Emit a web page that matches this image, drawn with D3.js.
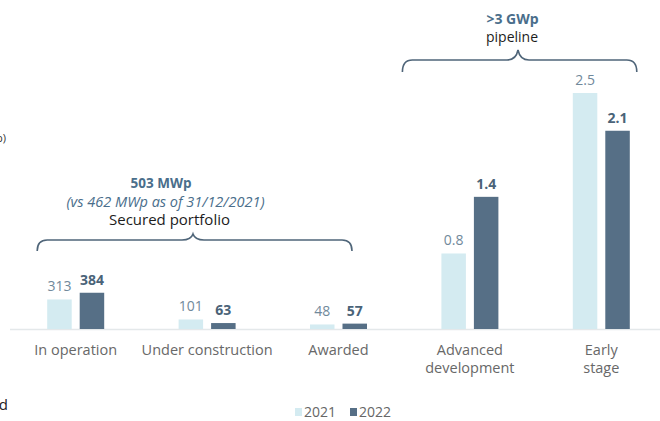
<!DOCTYPE html>
<html>
<head>
<meta charset="utf-8">
<script src="https://cdn.jsdelivr.net/npm/d3@7"></script>
<style>
  html, body { margin: 0; padding: 0; background: #ffffff; }
  svg { display: block; font-family: "Open Sans", "Noto Sans", sans-serif; }
</style>
</head>
<body>
<svg id="chart" width="660" height="421"></svg>
<script>
// Portfolio stages
const categories = ["In operation", "Under construction", "Awarded", "Advanced development", "Early stage"];
const categoryLines = [["In operation"], ["Under construction"], ["Awarded"], ["Advanced", "development"], ["Early", "stage"]];
const years = ["2021", "2022"];

// Secured portfolio, MWp
const secured2021 = [313, 101, 48];
const secured2022 = [384, 63, 57];
// Pipeline, GWp
const pipeline2021 = [0.8, 2.5];
const pipeline2022 = [1.4, 2.1];

const colors = { "2021": "#d4ebf1", "2022": "#566f86" };

// Build rows: each bar carries its value in MWp (for the scale) and its printed label
const rows = [];
categories.forEach((c, i) => {
  years.forEach(y => {
    let label, mw;
    if (i < 3) {
      const v = (y === "2021" ? secured2021 : secured2022)[i];
      label = String(v); mw = v;
    } else {
      const v = (y === "2021" ? pipeline2021 : pipeline2022)[i - 3];
      label = v.toFixed(1); mw = v * 1000;
    }
    rows.push({ category: c, year: y, mw, label });
  });
});

const svg = d3.select("#chart");
const baseY = 329;

const x0 = d3.scaleBand().domain(categories).range([10, 667]).paddingInner(0).paddingOuter(0);
const pairWidth = 57;
const x1 = d3.scaleBand().domain(years).range([0, pairWidth]).paddingInner(0.246).paddingOuter(0);
const y = d3.scaleLinear().domain([0, 2500]).range([baseY, 93]);

const groupLeft = c => x0(c) + x0.bandwidth() / 2 - pairWidth / 2;

// Baseline
svg.append("line")
  .attr("x1", 10).attr("x2", 660)
  .attr("y1", baseY + 0.5).attr("y2", baseY + 0.5)
  .attr("stroke", "#e4e8ea").attr("stroke-width", 1.5);

// Bars
svg.append("g").selectAll("rect").data(rows).join("rect")
  .attr("x", d => groupLeft(d.category) + x1(d.year))
  .attr("y", d => y(d.mw))
  .attr("width", x1.bandwidth())
  .attr("height", d => baseY - y(d.mw))
  .attr("fill", d => colors[d.year]);

// Value labels
svg.append("g").selectAll("text").data(rows).join("text")
  .attr("x", d => groupLeft(d.category) + x1(d.year) + x1.bandwidth() / 2)
  .attr("y", d => y(d.mw) - 8)
  .attr("text-anchor", "middle")
  .attr("font-size", 14)
  .attr("font-weight", d => d.year === "2022" ? 700 : 400)
  .attr("fill", d => d.year === "2022" ? "#4a6378" : "#71899b")
  .text(d => d.label);

// Category labels
const catG = svg.append("g").selectAll("text").data(categories).join("text")
  .attr("x", c => x0(c) + x0.bandwidth() / 2)
  .attr("y", 355)
  .attr("text-anchor", "middle")
  .attr("font-size", 14.5)
  .attr("fill", "#686868");
catG.selectAll("tspan").data((c, i) => categoryLines[i]).join("tspan")
  .attr("x", function () { return d3.select(this.parentNode).attr("x"); })
  .attr("dy", (d, i) => i === 0 ? 0 : 17.5)
  .text(d => d);

// Curly brackets over groups of stages
function bracket(xa, xb, xc, yEnd, yH, yTop) {
  const r = 10, k = 7;
  return `M${xa},${yEnd} Q${xa},${yH} ${xa + r},${yH} L${xc - k - 4},${yH} Q${xc - 2},${yH} ${xc},${yTop}` +
         ` Q${xc + 2},${yH} ${xc + k + 4},${yH} L${xb - r},${yH} Q${xb},${yH} ${xb},${yEnd}`;
}
const inOpLeft = groupLeft(categories[0]);
const awardedRight = groupLeft(categories[2]) + pairWidth;
const advLeft = groupLeft(categories[3]);
const earlyRight = groupLeft(categories[4]) + pairWidth;

svg.append("path")
  .attr("d", bracket(inOpLeft - 10, awardedRight - 15, 193, 251, 240, 234))
  .attr("fill", "none").attr("stroke", "#4f6579").attr("stroke-width", 1.6);
svg.append("path")
  .attr("d", bracket(advLeft - 39, earlyRight + 7, 518, 72, 60, 50))
  .attr("fill", "none").attr("stroke", "#4f6579").attr("stroke-width", 1.6);

// Annotations
const notes = [
  { text: "503 MWp", x: 161, y: 188, size: 13.5, weight: 700, style: "normal", fill: "#4a6e8b" },
  { text: "(vs 462 MWp as of 31/12/2021)", x: 165.5, y: 206.5, size: 14.5, weight: 400, style: "italic", fill: "#4a6e8b" },
  { text: "Secured portfolio", x: 169.5, y: 225, size: 15, weight: 400, style: "normal", fill: "#1c1c1c" },
  { text: ">3 GWp", x: 512.5, y: 24, size: 14, weight: 700, style: "normal", fill: "#4a6e8b" },
  { text: "pipeline", x: 512, y: 41.5, size: 14, weight: 400, style: "normal", fill: "#1c1c1c" }
];
svg.append("g").selectAll("text").data(notes).join("text")
  .attr("x", d => d.x).attr("y", d => d.y)
  .attr("text-anchor", "middle")
  .attr("font-size", d => d.size)
  .attr("font-weight", d => d.weight)
  .attr("font-style", d => d.style)
  .attr("fill", d => d.fill)
  .text(d => d.text);

// Legend
const legend = svg.append("g").selectAll("g").data(years).join("g")
  .attr("transform", (d, i) => `translate(${295 + i * 55},0)`);
legend.append("rect")
  .attr("x", 0).attr("y", 408).attr("width", 7).attr("height", 8)
  .attr("fill", d => colors[d]);
legend.append("text")
  .attr("x", 9).attr("y", 417)
  .attr("font-size", 14)
  .attr("fill", "#666666")
  .text(d => d);

// Clipped text at the left edge of the slide
svg.append("text").attr("x", 6).attr("y", 142).attr("text-anchor", "end")
  .attr("font-size", 11).attr("fill", "#333").text("(MWp)");
svg.append("text").attr("x", 8).attr("y", 410).attr("text-anchor", "end")
  .attr("font-size", 15).attr("fill", "#222").text("Secured");
</script>
</body>
</html>
